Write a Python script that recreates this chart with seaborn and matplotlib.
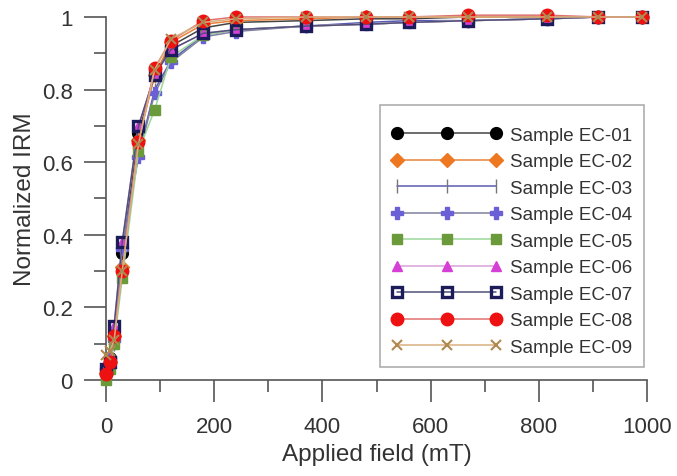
import numpy as np
import pandas as pd
import matplotlib
matplotlib.use("Agg")
import matplotlib.pyplot as plt
from matplotlib.ticker import MultipleLocator
import seaborn as sns

# %% IRM acquisition data
fields = [0, 7, 15, 30, 60, 90, 120, 180, 240, 370, 480, 560, 670, 815, 910, 990]

ec01 = [0.03, 0.06, 0.13, 0.35, 0.68, 0.84, 0.92, 0.97, 0.985, 0.99, 0.995, 0.995, 1.0, 1.0, 1.0, 1.0]
ec02 = [0.02, 0.05, 0.12, 0.31, 0.66, 0.84, 0.93, 0.98, 0.99, 0.995, 1.0, 1.0, 1.0, 1.0, 1.0, 1.0]
ec03 = [0.02, 0.07, 0.10, 0.37, 0.62, 0.80, 0.88, 0.95, 0.965, 0.975, 0.985, 0.99, 0.99, 0.995, 1.0, 1.0]
ec04 = [0.03, 0.06, 0.11, 0.36, 0.615, 0.79, 0.875, 0.945, 0.96, 0.975, 0.98, 0.985, 0.99, 0.995, 1.0, 1.0]
ec05 = [0.0, 0.03, 0.10, 0.28, 0.63, 0.745, 0.89, 0.95, 0.965, 0.975, 0.98, 0.985, 0.99, 0.995, 1.0, 1.0]
ec06 = [0.03, 0.05, 0.15, 0.38, 0.70, 0.84, 0.91, 0.955, 0.965, 0.975, 0.98, 0.985, 0.99, 0.995, 1.0, 1.0]
ec07 = [0.03, 0.05, 0.15, 0.38, 0.70, 0.84, 0.91, 0.955, 0.965, 0.975, 0.98, 0.985, 0.99, 0.995, 1.0, 1.0]
ec08 = [0.017, 0.05, 0.12, 0.30, 0.655, 0.86, 0.935, 0.99, 1.0, 1.0, 1.0, 1.0, 1.005, 1.005, 1.0, 1.0]
ec09 = [0.07, 0.08, 0.11, 0.30, 0.65, 0.855, 0.94, 0.985, 0.995, 1.0, 1.0, 1.0, 1.0, 1.0, 1.0, 1.0]

names = ["Sample EC-01", "Sample EC-02", "Sample EC-03", "Sample EC-04",
         "Sample EC-05", "Sample EC-06", "Sample EC-07", "Sample EC-08",
         "Sample EC-09"]
series = [ec01, ec02, ec03, ec04, ec05, ec06, ec07, ec08, ec09]

# line colour, marker, face colour, edge colour, marker size, edge width
styles = [
    ("#444444", "o", "black", "black", 8.5, 1),
    ("#E8823A", "D", "#EE7722", "#EE7722", 7.5, 1),
    ("#5A5AB4", "|", "#777777", "#777777", 10, 1),
    ("#8080A0", "P", "#6B5FD6", "#6B5FD6", 9, 1),
    ("#9AD89A", "s", "#6A9A3A", "#6A9A3A", 7.5, 1),
    ("#D7A0D7", "^", "#D63FD6", "#D63FD6", 7.5, 1),
    ("#50507A", "s", "none", "#1C1C5A", 6.5, 2.4),
    ("#E07070", "o", "#EE1111", "#EE1111", 9, 1),
    ("#D8B080", "x", "#B08850", "#B08850", 7.5, 1.5),
]

df = pd.DataFrame({"field": np.tile(fields, len(names)),
                   "irm": np.concatenate(series),
                   "sample": np.repeat(names, len(fields))})

# %% Plot
sns.set_theme(style="ticks")
plt.rcParams['font.family'] = ['Liberation Sans', 'DejaVu Sans']
text_col = "#333333"
spine_col = "#555555"

fig = plt.figure(figsize=(6.77, 4.77), dpi=100)
ax = fig.add_axes([0.1566, 0.2013, 0.7991, 0.761])

for name, (lc, mk, fc, ec, ms, mew) in zip(names, styles):
    sub = df[df["sample"] == name]
    sns.lineplot(data=sub, x="field", y="irm", ax=ax, color=lc, lw=1.1,
                 marker=mk, markerfacecolor=fc, markeredgecolor=ec,
                 markersize=ms, markeredgewidth=mew, label=name,
                 clip_on=False, zorder=3)

ax.set_xlim(0, 1000)
ax.set_ylim(0, 1)
ax.xaxis.set_major_locator(MultipleLocator(200))
ax.xaxis.set_minor_locator(MultipleLocator(100))
ax.yaxis.set_minor_locator(MultipleLocator(0.1))
ax.set_yticks([0, 0.2, 0.4, 0.6, 0.8, 1.0])
ax.set_yticklabels(["0", "0.2", "0.4", "0.6", "0.8", "1"])

ax.tick_params(which="major", direction="out", length=16, width=1.2,
               color=spine_col, labelsize=16, labelcolor=text_col, pad=8)
ax.tick_params(axis="x", which="major", pad=10)
ax.tick_params(which="minor", direction="out", length=8.5, width=1.2,
               color=spine_col)
for side in ["top", "right"]:
    ax.spines[side].set_visible(False)
for side in ["left", "bottom"]:
    ax.spines[side].set_color(spine_col)
    ax.spines[side].set_linewidth(1.2)

ax.set_xlabel("Applied field (mT)", fontsize=17.5, color=text_col, labelpad=4)
ax.set_ylabel("Normalized IRM", fontsize=17.5, color=text_col, labelpad=4)

# blank title only pads the top of the box
leg = ax.legend(loc="lower right", bbox_to_anchor=(0.994, 0.036),
                numpoints=3, handlelength=5.9, handletextpad=0.45,
                fontsize=13.5, labelspacing=0.5, borderpad=0.6,
                title=" ", title_fontsize=1,
                fancybox=False, frameon=True, borderaxespad=0)
leg.get_frame().set_edgecolor("#999999")
leg.get_frame().set_linewidth(1.2)
for t in leg.get_texts():
    t.set_color(text_col)

fig.savefig("out.png", dpi=100)
